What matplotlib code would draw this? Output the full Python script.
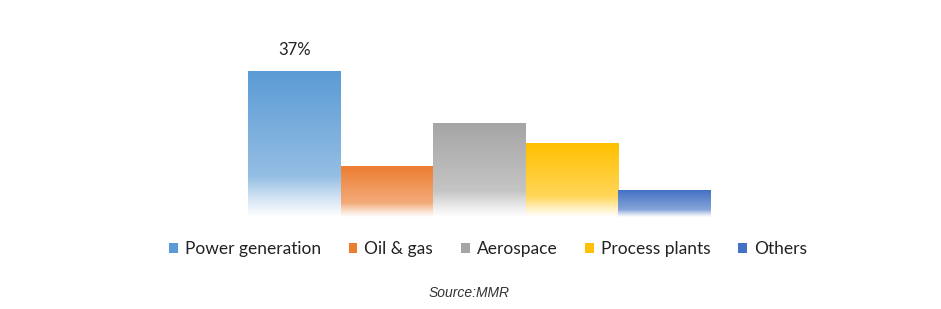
import numpy as np
import matplotlib.pyplot as plt
from matplotlib.colors import to_rgb
from matplotlib.patches import Patch

# 数据
categories = ["Power generation", "Oil & gas", "Aerospace", "Process plants", "Others"]
shares = [37, 12.7, 23.8, 18.7, 6.6]
colors = ["#5B9BD5", "#ED7D31", "#A5A5A5", "#FFC000", "#4472C4"]

plt.rcParams["font.family"] = ["Lato", "DejaVu Sans"]

fig = plt.figure(figsize=(9.41, 3.09), dpi=100)
ax = fig.add_axes([248 / 941, (309 - 217) / 309, (711 - 248) / 941, (217 - 30) / 309])

ymax = shares[0] * (217 - 30) / (217 - 71)

# 渐变填充：顶部为原色，向下逐渐变浅，底部接近白色
t = np.linspace(0, 1, 200)
mix = np.interp(t, [0, 0.72, 0.88, 1.0], [0.0, 0.35, 0.75, 1.0])
bars = ax.bar(range(len(shares)), shares, width=1.0, color="none", edgecolor="none")
for bar, c in zip(bars, colors):
    rgb = np.array(to_rgb(c))
    grad = rgb[None, :] * (1 - mix[:, None]) + mix[:, None]
    img = np.repeat(grad[:, None, :], 2, axis=1)
    x0 = bar.get_x()
    ax.imshow(img, extent=[x0, x0 + bar.get_width(), 0, bar.get_height()],
              aspect="auto", origin="upper", interpolation="bilinear", zorder=2)

ax.set_xlim(-0.5, len(shares) - 0.5)
ax.set_ylim(0, ymax)
ax.text(0, shares[0] + 5.3, f"{shares[0]}%", ha="center", va="center", fontsize=12, color="#222222")
ax.axis("off")

handles = [Patch(facecolor=c, edgecolor="none") for c in colors]
fig.legend(handles, categories, loc="center", bbox_to_anchor=(488 / 941, 1 - 249 / 309),
           ncol=5, frameon=False, fontsize=12.5, handlelength=0.5, handleheight=0.5,
           handletextpad=0.4, columnspacing=1.6, labelcolor="#222222")

fig.text(469 / 941, 1 - 293 / 309, "Source:MMR", ha="center", va="center",
         fontsize=10, style="italic", family="Liberation Sans", color="#333333")

fig.savefig("out.png", dpi=100)
